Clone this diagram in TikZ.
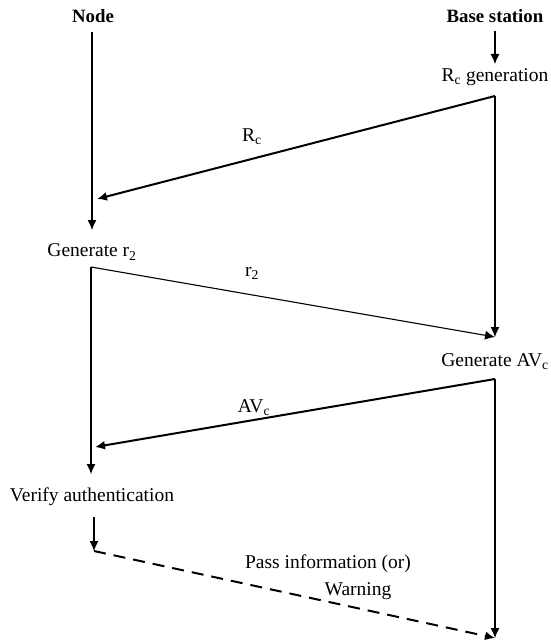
\documentclass[tikz,border=0pt]{standalone}
\usepackage{fontspec}
\setmainfont{Liberation Serif}
\usetikzlibrary{arrows.meta}
\begin{document}
\begin{tikzpicture}[x=1pt,y=-1pt,
  lbl/.style={font=\fontsize{19.5}{21}\selectfont, inner sep=0pt, anchor=center},
  hdr/.style={font=\fontsize{18.8}{20}\selectfont\bfseries, inner sep=0pt, anchor=center},
  arr/.style={-{Latex[length=10pt,width=9pt]}},
  thinl/.style={line width=1.1pt},
  thickl/.style={line width=2pt},
  dashl/.style={line width=2pt, dash pattern=on 12pt off 8pt}]
\useasboundingbox (0,0) rectangle (550,642);
% headers
\node[hdr] (hnode) at (93,16) {Node};
\node[hdr] (hbs) at (495,16) {Base station};
% step labels
\node[lbl] (rcgen) at (495,77) {R\textsubscript{c} generation};
\node[lbl] (gen2) at (92,252) {Generate r\textsubscript{2}};
\node[lbl] (genav) at (495,362) {Generate AV\textsubscript{c}};
\node[lbl] (verify) at (92,497) {Verify authentication};
% message labels
\node[lbl] (lrc) at (252,137) {R\textsubscript{c}};
\node[lbl] (lr2) at (252,273) {r\textsubscript{2}};
\node[lbl] (lav) at (254,408) {AV\textsubscript{c}};
\node[lbl] (lpass) at (328,564) {Pass information (or)};
\node[lbl] (lwarn) at (358,591) {Warning};
% coordinates
\coordinate (n1) at (92,32);
\coordinate (n2) at (92,230);
\coordinate (rcin) at (97,199);
\coordinate (b0) at (495,31);
\coordinate (b1) at (495,64);
\coordinate (bc1) at (495,96);
\coordinate (b2) at (495,337);
\coordinate (n3) at (91,267);
\coordinate (n4) at (91,474);
\coordinate (bc2) at (495,379);
\coordinate (avin) at (95,447);
\coordinate (b3) at (495,638);
\coordinate (v1) at (94,517);
\coordinate (v2) at (94,551);
% connectors
\draw[thinl,arr] (n1) -- (n2);
\draw[thinl,arr] (b0) -- (b1);
\draw[thickl,arr] (bc1) -- (rcin);
\draw[thinl,arr] (bc1) -- (b2);
\draw[thinl,arr] (n3) -- (n4);
\draw[line width=1.1pt,arr] (n3) -- (b2);
\draw[thickl,arr] (bc2) -- (avin);
\draw[thinl,arr] (bc2) -- (b3);
\draw[thinl,arr] (v1) -- (v2);
\draw[dashl,arr] (v2) -- (b3);
\end{tikzpicture}
\end{document}
